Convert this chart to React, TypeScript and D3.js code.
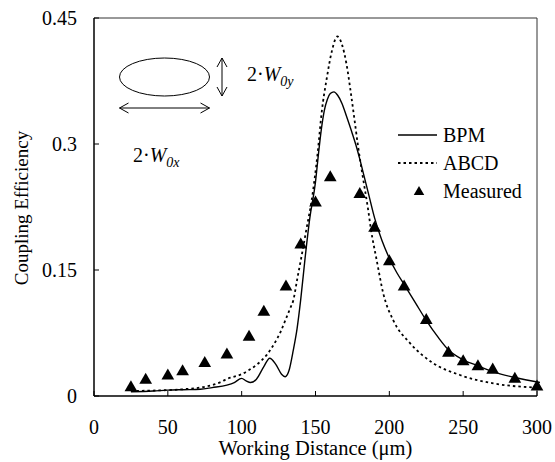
import React from "react";
import * as d3 from "d3";

const xTicks = [0, 50, 100, 150, 200, 250, 300];
const yTicks = [0, 0.15, 0.3, 0.45];
const yTickLabels = ["0", "0.15", "0.3", "0.45"];

const bpmX = [25, 40, 50, 60, 72, 80, 90, 95, 100, 103, 106, 110, 115, 119, 123, 127, 129.5, 132, 135, 137.5, 140, 143, 146, 150, 152, 154, 156, 158, 160, 162.5, 165, 168, 171, 175, 178, 180, 182, 186, 190, 195, 200, 205, 210, 218, 225, 233, 240, 250, 260, 270, 285, 302];
const bpmY = [0.005, 0.006, 0.007, 0.0075, 0.008, 0.01, 0.013, 0.016, 0.021, 0.018, 0.016, 0.02, 0.035, 0.045, 0.038, 0.026, 0.023, 0.03, 0.055, 0.08, 0.115, 0.165, 0.21, 0.255, 0.288, 0.318, 0.34, 0.353, 0.36, 0.362, 0.358, 0.348, 0.333, 0.312, 0.295, 0.282, 0.268, 0.24, 0.212, 0.185, 0.164, 0.147, 0.133, 0.11, 0.09, 0.07, 0.055, 0.043, 0.036, 0.029, 0.022, 0.016];

const abcdX = [25, 40, 50, 60, 75, 85, 91, 95, 100, 105, 110, 117, 122, 126.5, 130, 133, 135, 137.5, 140.5, 144, 147.4, 151.5, 154.2, 157.6, 161, 164.8, 168, 171, 174, 176.7, 179, 182.4, 185.8, 187.4, 191.4, 195.9, 202.7, 214, 229.8, 247.8, 270.4, 301];
const abcdY = [0.006, 0.0065, 0.007, 0.008, 0.011, 0.016, 0.021, 0.023, 0.026, 0.031, 0.037, 0.049, 0.062, 0.077, 0.092, 0.105, 0.114, 0.138, 0.166, 0.2, 0.233, 0.29, 0.338, 0.378, 0.41, 0.428, 0.418, 0.395, 0.36, 0.325, 0.295, 0.257, 0.22, 0.2, 0.162, 0.122, 0.09, 0.063, 0.039, 0.025, 0.015, 0.01];

const measX = [25, 35, 50, 60, 75, 90, 105, 115, 130, 140, 150, 160, 180, 190, 200, 210, 225, 240, 250, 260, 270, 285, 300];
const measY = [0.01, 0.019, 0.024, 0.029, 0.039, 0.049, 0.07, 0.1, 0.13, 0.18, 0.23, 0.26, 0.24, 0.2, 0.16, 0.13, 0.09, 0.051, 0.041, 0.035, 0.031, 0.02, 0.011];

const legendLabels = ["BPM", "ABCD", "Measured"];

const FONT = "Liberation Serif, Times New Roman, serif";

export default function App() {
  const W = 555, H = 462;
  const left = 94, right = 537, top = 18, bottom = 396;
  const x = d3.scaleLinear().domain([0, 300]).range([left, right]);
  const y = d3.scaleLinear().domain([0, 0.45]).range([bottom, top]);

  const line = d3.line<[number, number]>()
    .x(d => x(d[0]))
    .y(d => y(d[1]))
    .curve(d3.curveMonotoneX);

  const bpmPath = line(bpmX.map((v, i) => [v, bpmY[i]]) as [number, number][]) || "";
  const abcdPath = line(abcdX.map((v, i) => [v, abcdY[i]]) as [number, number][]) || "";
  const tri = d3.symbol().type(d3.symbolTriangle).size(70)() || "";

  const fs = 20;
  const ts = { fontFamily: FONT };

  const ex = 164.5, ey = 77, erx = 45, ery = 19;
  const ah = 9, aw = 5;

  return (
    <svg width={W} height={H} style={{ display: "block", position: "absolute", left: 0, top: 0, fontFamily: FONT }}>
      <rect x={0} y={0} width={W} height={H} fill="#fff" />
      <line x1={left} y1={top} x2={right} y2={top} stroke="#333" strokeWidth={1} />
      <line x1={right} y1={top} x2={right} y2={bottom} stroke="#333" strokeWidth={1} />
      <line x1={left} y1={top} x2={left} y2={bottom} stroke="#000" strokeWidth={1.5} />
      <line x1={left} y1={bottom} x2={right} y2={bottom} stroke="#000" strokeWidth={1.5} />

      {yTicks.map((t, i) => (
        <g key={"y" + i}>
          <line x1={left} x2={left + 5} y1={y(t)} y2={y(t)} stroke="#000" strokeWidth={1} />
          <text x={77} y={y(t)} dy="0.35em" textAnchor="end" fontSize={fs} style={ts}>{yTickLabels[i]}</text>
        </g>
      ))}
      {xTicks.map((t, i) => (
        <g key={"x" + i}>
          <line x1={x(t)} x2={x(t)} y1={bottom} y2={bottom - 5} stroke="#000" strokeWidth={1} />
          <text x={x(t)} y={434} textAnchor="middle" fontSize={fs} style={ts}>{t}</text>
        </g>
      ))}

      <text x={(left + right) / 2} y={455} textAnchor="middle" fontSize={20.5} style={ts}>Working Distance (μm)</text>
      <text transform={`translate(28, 208) rotate(-90)`} textAnchor="middle" fontSize={19} style={ts}>Coupling Efficiency</text>

      <path d={abcdPath} fill="none" stroke="#000" strokeWidth={1.8} strokeDasharray="2.5,3" />
      <path d={bpmPath} fill="none" stroke="#000" strokeWidth={1.4} />
      {measX.map((v, i) => (
        <path key={"m" + i} d={tri} transform={`translate(${x(v)},${y(measY[i])})`} fill="#000" />
      ))}

      <line x1={398} x2={437} y1={135} y2={135} stroke="#000" strokeWidth={1.4} />
      <text x={443} y={135} dy="0.35em" fontSize={fs} style={ts}>{legendLabels[0]}</text>
      <line x1={398} x2={437} y1={163} y2={163} stroke="#000" strokeWidth={1.8} strokeDasharray="2.5,3" />
      <text x={443} y={163} dy="0.35em" fontSize={fs} style={ts}>{legendLabels[1]}</text>
      <path d={d3.symbol().type(d3.symbolTriangle).size(48)() || ""} transform="translate(419,192)" fill="#000" />
      <text x={443} y={191} dy="0.35em" fontSize={fs} style={ts}>{legendLabels[2]}</text>

      <ellipse cx={ex} cy={ey} rx={erx} ry={ery} fill="none" stroke="#000" strokeWidth={1} />
      <g stroke="#000" strokeWidth={1} fill="none">
        <line x1={ex - erx} x2={ex + erx} y1={108} y2={108} />
        <path d={`M${ex - erx + ah},${108 - aw} L${ex - erx},108 L${ex - erx + ah},${108 + aw}`} />
        <path d={`M${ex + erx - ah},${108 - aw} L${ex + erx},108 L${ex + erx - ah},${108 + aw}`} />
        <line x1={222} x2={222} y1={ey - ery} y2={ey + ery} />
        <path d={`M${222 - aw},${ey - ery + ah} L222,${ey - ery} L${222 + aw},${ey - ery + ah}`} />
        <path d={`M${222 - aw},${ey + ery - ah} L222,${ey + ery} L${222 + aw},${ey + ery - ah}`} />
      </g>
      <text x={247} y={81} fontSize={fs} style={ts}>
        2·<tspan fontStyle="italic">W</tspan><tspan fontSize={14} dy={5} fontStyle="italic">0y</tspan>
      </text>
      <text x={133} y={162} fontSize={fs} style={ts}>
        2·<tspan fontStyle="italic">W</tspan><tspan fontSize={14} dy={5} fontStyle="italic">0x</tspan>
      </text>
    </svg>
  );
}
